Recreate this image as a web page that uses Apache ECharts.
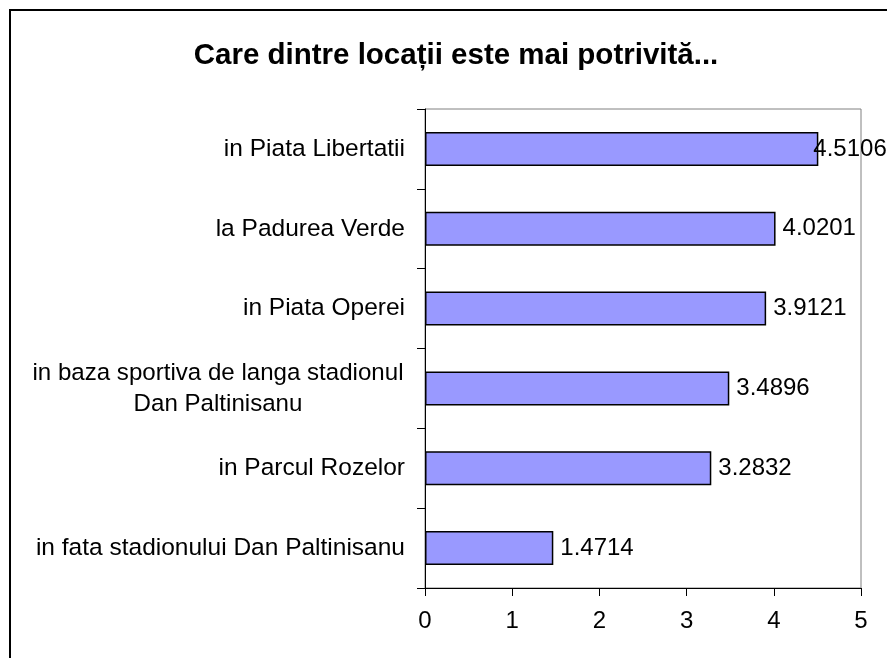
<!DOCTYPE html>
<html>
<head>
<meta charset="utf-8">
<script src="https://cdn.jsdelivr.net/npm/echarts@6/dist/echarts.min.js"></script>
<style>
html,body{margin:0;padding:0;background:#fff;}
#chart{width:887px;height:658px;}
</style>
</head>
<body>
<div id="chart"></div>
<script>
var titleText = 'Care dintre locații este mai potrivită...';
var categories = [
  'in Piata Libertatii',
  'la Padurea Verde',
  'in Piata Operei',
  'in baza sportiva de langa stadionul\nDan Paltinisanu',
  'in Parcul Rozelor',
  'in fata stadionului Dan Paltinisanu'
];
var values = [4.5106, 4.0201, 3.9121, 3.4896, 3.2832, 1.4714];
var xTicks = [0, 1, 2, 3, 4, 5];

var FONT = "'Liberation Sans', Arial, sans-serif";
var chart = echarts.init(document.getElementById('chart'), null, {renderer: 'canvas'});

var seriesData = values.map(function (v, i) {
  var item = {value: v};
  if (i === 0) item.label = {offset: [-12, 0]};
  return item;
});

chart.setOption({
  backgroundColor: '#ffffff',
  animation: false,
  title: {
    text: titleText,
    left: 451,
    top: 36,
    textAlign: 'center',
    textStyle: {fontFamily: FONT, fontSize: 29.5, fontWeight: 'bold', color: '#000'}
  },
  graphic: [{
    type: 'rect',
    shape: {x: 10, y: 10, width: 900, height: 700},
    style: {fill: 'none', stroke: '#000', lineWidth: 2},
    silent: true,
    z: 100
  }],
  grid: {
    left: 425, right: 26, top: 109, bottom: 70,
    show: true, borderColor: '#808080', borderWidth: 1, backgroundColor: '#fff'
  },
  xAxis: {
    type: 'value',
    min: xTicks[0],
    max: xTicks[xTicks.length - 1],
    interval: 1,
    axisLine: {show: true, lineStyle: {color: '#000', width: 1}},
    axisTick: {show: true, length: 8, lineStyle: {color: '#000'}},
    splitLine: {show: false},
    axisLabel: {fontFamily: FONT, fontSize: 24, color: '#000', margin: 21}
  },
  yAxis: {
    type: 'category',
    data: categories,
    inverse: true,
    axisLine: {show: true, lineStyle: {color: '#000', width: 1}},
    axisTick: {show: true, length: 8, alignWithLabel: false, lineStyle: {color: '#000'}},
    axisLabel: {
      fontFamily: FONT, fontSize: 24.5, color: '#000', margin: 20,
      formatter: function (v) {
        if (v.indexOf('\n') >= 0) {
          return v.split('\n').map(function (s) { return '{c|' + s + '}'; }).join('\n');
        }
        return v;
      },
      rich: {
        c: {fontFamily: FONT, fontSize: 24.1, color: '#000', width: 374, align: 'center', lineHeight: 31}
      }
    }
  },
  series: [{
    type: 'bar',
    data: seriesData,
    barWidth: 34,
    itemStyle: {color: '#9999FF', borderColor: '#000', borderWidth: 1.5},
    label: {
      show: true, position: 'right', distance: 7,
      fontFamily: FONT, fontSize: 24, color: '#000',
      formatter: function (p) { return p.value.toFixed(4); }
    }
  }]
});
</script>
</body>
</html>
